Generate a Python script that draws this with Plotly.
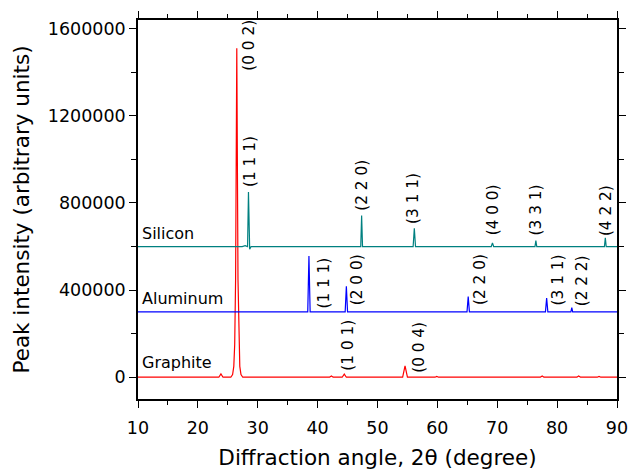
import plotly.graph_objects as go

# ---- data ----
graphite_x = [10, 23.5, 23.85, 24.2, 25.5, 25.8, 26.0, 26.15, 26.3, 26.5, 26.7, 26.85, 27.0, 27.2, 27.5,
              42.0, 42.3, 42.6, 44.1, 44.45, 44.8, 54.2, 54.6, 55.0, 59.6, 59.9, 60.2,
              77.2, 77.5, 77.8, 83.3, 83.6, 83.9, 86.7, 87.0, 87.3, 90]
graphite_y = [0, 0, 15000, 0, 0, 12000, 50000, 150000, 450000, 1510000, 450000, 150000, 50000, 12000, 0,
              0, 6000, 0, 0, 14000, 0, 0, 52000, 0, 0, 4000, 0,
              0, 6000, 0, 0, 6000, 0, 0, 4000, 0, 0]

aluminum_x = [10, 38.35, 38.55, 38.75, 44.6, 44.8, 45.0, 64.95, 65.15, 65.35, 78.05, 78.25, 78.45,
              82.3, 82.45, 82.6, 90]
aluminum_y = [300000, 300000, 556000, 300000, 300000, 418000, 300000, 300000, 370000, 300000,
              300000, 363000, 300000, 300000, 320000, 300000, 300000]

silicon_x = [10, 27.4, 27.9, 28.3, 28.45, 28.65, 28.9, 47.2, 47.35, 47.5, 55.95, 56.15, 56.35,
             69.0, 69.2, 69.4, 76.3, 76.45, 76.6, 87.9, 88.05, 88.2, 90]
silicon_y = [600000, 600000, 604000, 600000, 850000, 588000, 600000, 600000, 742000, 600000,
             600000, 684000, 600000, 600000, 617000, 600000, 600000, 627000, 600000,
             600000, 640000, 600000, 600000]

series_names = ["Graphite", "Aluminum", "Silicon"]
series_colors = ["#ff0000", "#0000ff", "#008080"]
name_y = [69000, 363000, 660000]

peak_labels = ["(0 0 2)", "(1 0 1)", "(0 0 4)",
               "(1 1 1)", "(2 0 0)", "(2 2 0)", "(3 1 1)", "(2 2 2)",
               "(1 1 1)", "(2 2 0)", "(3 1 1)", "(4 0 0)", "(3 3 1)", "(4 2 2)"]
peak_label_x = [28.6, 45.1, 56.9,
                41.0, 46.5, 67.0, 80.1, 84.2,
                28.8, 47.5, 56.0, 69.3, 76.5, 88.2]
peak_label_y = [1402000, 24000, 17000,
                311000, 326000, 326000, 326000, 320000,
                869000, 760000, 699000, 645000, 645000, 642000]

x_ticks = [10, 20, 30, 40, 50, 60, 70, 80, 90]
y_ticks = [0, 400000, 800000, 1200000, 1600000]

FONT = "DejaVu Sans"

fig = go.Figure()
for xs, ys, nm, col in zip([graphite_x, aluminum_x, silicon_x],
                           [graphite_y, aluminum_y, silicon_y],
                           series_names, series_colors):
    fig.add_trace(go.Scatter(x=xs, y=ys, mode="lines", name=nm,
                             line=dict(color=col, width=1.2), showlegend=False))

annotations = []
for nm, yy in zip(series_names, name_y):
    annotations.append(dict(x=10.5, y=yy, xref="x", yref="y", text=nm, showarrow=False,
                            xanchor="left", yanchor="middle", borderpad=0,
                            font=dict(family=FONT, size=16, color="black")))
for t, xx, yy in zip(peak_labels, peak_label_x, peak_label_y):
    annotations.append(dict(x=xx, y=yy, xref="x", yref="y", text=t, showarrow=False,
                            textangle=-90, xanchor="center", yanchor="bottom", borderpad=0,
                            font=dict(family=FONT, size=15.3, color="black")))

axis_common = dict(showgrid=False, zeroline=False, showline=True, linecolor="black", linewidth=1.5,
                   mirror="ticks", ticks="outside", ticklen=7, tickwidth=1.2, tickcolor="black",
                   automargin=False,
                   tickfont=dict(family=FONT, size=17.5, color="black"))

fig.update_layout(
    width=633, height=473,
    margin=dict(l=138, r=16, t=20, b=74),
    paper_bgcolor="white", plot_bgcolor="white",
    font=dict(family=FONT, color="black"),
    annotations=annotations,
    xaxis=dict(range=[10, 90], tickvals=x_ticks, ticklabelstandoff=5,
               minor=dict(dtick=5, ticks="outside", ticklen=4, tickcolor="black", tickwidth=1.2),
               title=dict(text="Diffraction angle, 2θ (degree)", font=dict(family=FONT, size=21.5), standoff=13),
               **axis_common),
    yaxis=dict(range=[-100000, 1640000], tickvals=y_ticks, tickformat="d",
               minor=dict(dtick=200000, ticks="outside", ticklen=5, tickcolor="black", tickwidth=1.2),
               title=dict(text="Peak intensity (arbitrary units)", font=dict(family=FONT, size=21.5), standoff=12),
               **axis_common),
)

fig.write_html("out.html", config={"displayModeBar": False},
               post_script="document.body.style.margin='0';document.body.style.overflow='hidden';")
